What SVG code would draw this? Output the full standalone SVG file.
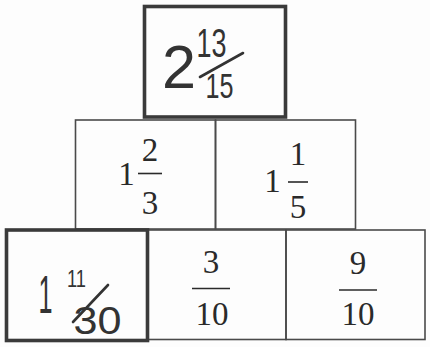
<svg xmlns="http://www.w3.org/2000/svg" width="430" height="347" viewBox="0 0 430 347">
<style>
.thin{fill:none;stroke:#4a4a4a;stroke-width:1.6}
.thick{fill:none;stroke:#3a3a3a;stroke-width:3.6}
.p{font-family:"Liberation Serif","Times New Roman",serif;font-size:33px;fill:#2a2a2a;text-anchor:middle}
.bar{stroke:#2a2a2a;stroke-width:1.6}
.h{font-family:"Liberation Sans",Arial,sans-serif;fill:#333;text-anchor:middle}
.slash{stroke:#333;stroke-width:2.6;stroke-linecap:round}
</style>
<rect width="430" height="347" fill="#fdfdfd"/>
<g id="connectors"></g>
<g id="top">
  <rect class="thick" x="144.5" y="6.5" width="141" height="110.5"/>
  <text class="h" x="179" y="88" font-size="62" textLength="34" lengthAdjust="spacingAndGlyphs">2</text>
  <text class="h" x="211.5" y="57" font-size="40" textLength="30" lengthAdjust="spacingAndGlyphs">13</text>
  <line class="slash" x1="200" y1="77" x2="243" y2="53"/>
  <text class="h" x="219.5" y="98" font-size="35" textLength="28" lengthAdjust="spacingAndGlyphs">15</text>
</g>
<g id="mid-left">
  <rect class="thin" x="75.5" y="120" width="140" height="109"/>
  <text class="p" x="126.5" y="185">1</text>
  <text class="p" x="150" y="161">2</text>
  <line class="bar" x1="138" y1="173.5" x2="162" y2="173.5"/>
  <text class="p" x="150" y="214">3</text>
</g>
<g id="mid-right">
  <rect class="thin" x="215.5" y="120" width="140" height="109"/>
  <text class="p" x="272.5" y="192">1</text>
  <text class="p" x="298" y="165">1</text>
  <line class="bar" x1="288" y1="182" x2="308" y2="182"/>
  <text class="p" x="298" y="218">5</text>
</g>
<g id="bottom-mid">
  <rect class="thin" x="147.5" y="230" width="138.5" height="109.5"/>
  <text class="p" x="211" y="273">3</text>
  <line class="bar" x1="192" y1="288.5" x2="230" y2="288.5"/>
  <text class="p" x="212" y="325">10</text>
</g>
<g id="bottom-right">
  <rect class="thin" x="286" y="230" width="139" height="109.5"/>
  <text class="p" x="358" y="274">9</text>
  <line class="bar" x1="339" y1="290" x2="377" y2="290"/>
  <text class="p" x="358" y="325">10</text>
</g>
<g id="bottom-left">
  <rect class="thick" x="6.5" y="230" width="141" height="110.5"/>
  <text class="h" x="45.5" y="313" font-size="53" textLength="14" lengthAdjust="spacingAndGlyphs">1</text>
  <text class="h" x="76.5" y="287" font-size="24" textLength="19" lengthAdjust="spacingAndGlyphs">11</text>
  <line class="slash" x1="73" y1="322" x2="108" y2="285"/>
  <text class="h" x="97.5" y="334" font-size="39" textLength="48" lengthAdjust="spacingAndGlyphs">30</text>
</g>
</svg>
